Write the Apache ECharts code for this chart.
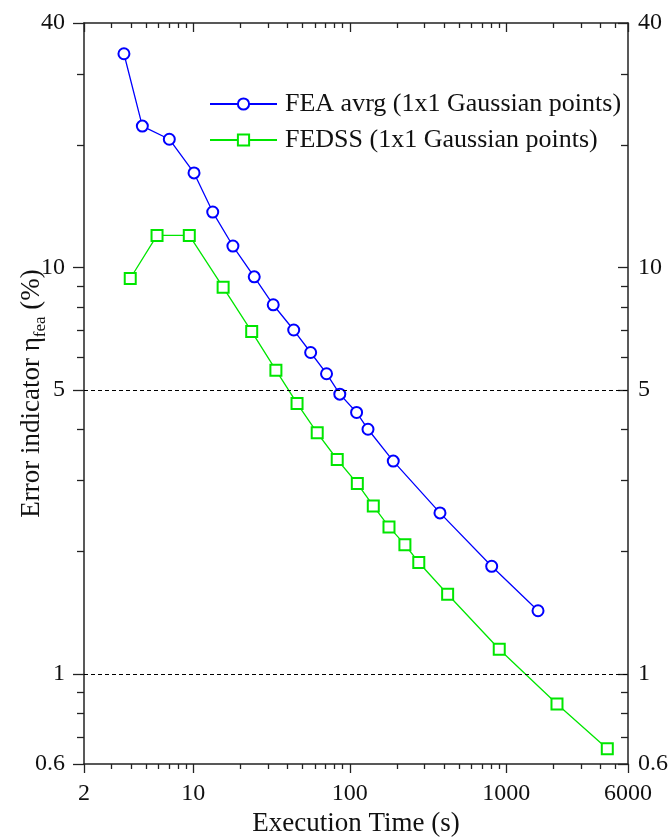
<!DOCTYPE html>
<html>
<head>
<meta charset="utf-8">
<script src="https://cdn.jsdelivr.net/npm/echarts@6/dist/echarts.min.js"></script>
<style>
  html, body { margin: 0; padding: 0; background: #fff; }
  #chart { width: 671px; height: 837px; }
</style>
</head>
<body>
<div id="chart"></div>
<script>
// execution time (s) vs error indicator (%)
const feaTime = [3.60, 4.72, 7.02, 10.1, 13.3, 17.9, 24.5, 32.4, 43.8, 56.2, 71.0, 86.3, 110.5, 130.7, 189.6, 377, 807, 1596];
const feaError = [33.6, 22.3, 20.7, 17.1, 13.7, 11.3, 9.49, 8.10, 7.02, 6.18, 5.48, 4.88, 4.40, 4.00, 3.34, 2.49, 1.84, 1.43];

const fedssTime = [3.95, 5.86, 9.42, 15.5, 23.6, 33.7, 46.0, 61.9, 83.1, 111.7, 141.3, 178, 225, 276, 422, 902, 2110, 4424];
const fedssError = [9.40, 12.0, 12.0, 8.94, 6.96, 5.59, 4.63, 3.92, 3.37, 2.94, 2.59, 2.30, 2.08, 1.88, 1.57, 1.15, 0.843, 0.654];

const xMajorTicks = [2, 10, 100, 1000, 6000];
const xMinorTicks = [3, 4, 5, 6, 7, 8, 9, 20, 30, 40, 50, 60, 70, 80, 90,
  200, 300, 400, 500, 600, 700, 800, 900, 2000, 3000, 4000, 5000];
const yMajorTicks = [0.6, 1, 5, 10, 40];
const yMinorTicks = [0.7, 0.8, 0.9, 2, 3, 4, 6, 7, 8, 9, 20, 30];
const refLines = [1, 5];

const FONT = "'Liberation Serif', 'Times New Roman', serif";
const AXIS_COLOR = '#222';

function logAxis(min, max, extra) {
  const base = {
    type: 'log',
    logBase: 10,
    min: min,
    max: max,
    axisLine: { show: false, lineStyle: { color: AXIS_COLOR, width: 1.5 } },
    axisTick: { show: true, lineStyle: { color: AXIS_COLOR, width: 1.3 } },
    axisLabel: { show: false },
    splitLine: { show: false },
    minorTick: { show: false },
  };
  return Object.assign(base, extra);
}

const tickLabel = {
  show: true,
  interval: 0,
  hideOverlap: false,
  showMinLabel: true,
  showMaxLabel: true,
  fontFamily: FONT,
  fontSize: 24,
  color: '#111',
  formatter: (v) => String(+(+v).toPrecision(6)),
};

const xAxes = [
  logAxis(2, 6000, {
    position: 'bottom',
    axisLine: { show: true, lineStyle: { color: AXIS_COLOR, width: 1.5 } },
    axisTick: { customValues: xMajorTicks, length: 9, lineStyle: { color: AXIS_COLOR, width: 1.3 } },
    axisLabel: Object.assign({ customValues: xMajorTicks, margin: 18 }, tickLabel),
    name: 'Execution Time (s)',
    nameLocation: 'middle',
    nameGap: 46,
    nameTextStyle: { fontFamily: FONT, fontSize: 27, color: '#111' },
  }),
  logAxis(2, 6000, {
    position: 'bottom',
    axisTick: { customValues: xMinorTicks, length: 5, lineStyle: { color: AXIS_COLOR, width: 1.3 } },
  }),
  logAxis(2, 6000, {
    position: 'top',
    axisLine: { show: true, lineStyle: { color: AXIS_COLOR, width: 1.5 } },
    axisTick: { customValues: xMajorTicks, length: 9, inside: true, lineStyle: { color: AXIS_COLOR, width: 1.3 } },
  }),
  logAxis(2, 6000, {
    position: 'top',
    axisTick: { customValues: xMinorTicks, length: 5, inside: true, lineStyle: { color: AXIS_COLOR, width: 1.3 } },
  }),
];

const yAxes = [
  logAxis(0.6, 40, {
    position: 'left',
    axisLine: { show: true, lineStyle: { color: AXIS_COLOR, width: 1.5 } },
    axisTick: { customValues: yMajorTicks, length: 11, lineStyle: { color: AXIS_COLOR, width: 1.3 } },
    axisLabel: Object.assign({ customValues: yMajorTicks, margin: 19 }, tickLabel),
    name: '{a|Error indicator η}{sub|fea}{a| (%)}',
    nameLocation: 'middle',
    nameGap: 35,
    nameMoveOverlap: false,
    nameTextStyle: {
      fontFamily: FONT,
      color: '#111',
      rich: {
        a: { fontFamily: FONT, fontSize: 27, color: '#111', lineHeight: 34, verticalAlign: 'middle' },
        sub: { fontFamily: FONT, fontSize: 17, color: '#111', lineHeight: 34, verticalAlign: 'bottom' },
      },
    },
  }),
  logAxis(0.6, 40, {
    position: 'left',
    axisTick: { customValues: yMinorTicks, length: 7, lineStyle: { color: AXIS_COLOR, width: 1.3 } },
  }),
  logAxis(0.6, 40, {
    position: 'right',
    axisLine: { show: true, lineStyle: { color: AXIS_COLOR, width: 1.5 } },
    axisTick: { customValues: yMajorTicks, length: 10, inside: true, lineStyle: { color: AXIS_COLOR, width: 1.3 } },
    axisLabel: Object.assign({ customValues: yMajorTicks, margin: 10 }, tickLabel),
  }),
  logAxis(0.6, 40, {
    position: 'right',
    axisTick: { customValues: yMinorTicks, length: 7, inside: true, lineStyle: { color: AXIS_COLOR, width: 1.3 } },
  }),
];

const chart = echarts.init(document.getElementById('chart'), null, { renderer: 'canvas' });

chart.setOption({
  animation: false,
  backgroundColor: '#fff',
  grid: { left: 84, right: 43, top: 23, bottom: 73, containLabel: false, outerBoundsMode: 'none' },
  legend: {
    orient: 'vertical',
    left: 204,
    top: 86,
    itemWidth: 67,
    itemHeight: 14,
    itemGap: 10,
    textStyle: { fontFamily: FONT, fontSize: 26, color: '#111', padding: [0, 0, 0, 3] },
    data: ['FEA avrg (1x1 Gaussian points)', 'FEDSS (1x1 Gaussian points)'],
  },
  xAxis: xAxes,
  yAxis: yAxes,
  series: [
    {
      name: 'FEA avrg (1x1 Gaussian points)',
      type: 'line',
      xAxisIndex: 0,
      yAxisIndex: 0,
      data: feaTime.map((t, i) => [t, feaError[i]]),
      symbol: 'emptyCircle',
      symbolSize: 11,
      color: '#0000ff',
      lineStyle: { color: '#0000ff', width: 1.3 },
      itemStyle: { color: '#0000ff', borderWidth: 1.4 },
      markLine: {
        silent: true,
        symbol: ['none', 'none'],
        label: { show: false },
        lineStyle: { color: '#000', width: 1.2, type: [4, 3] },
        data: refLines.map((v) => ({ yAxis: v })),
      },
      z: 3,
    },
    {
      name: 'FEDSS (1x1 Gaussian points)',
      type: 'line',
      xAxisIndex: 0,
      yAxisIndex: 0,
      data: fedssTime.map((t, i) => [t, fedssError[i]]),
      symbol: 'emptyRect',
      symbolSize: 11,
      color: '#00e600',
      lineStyle: { color: '#00e600', width: 1.3 },
      itemStyle: { color: '#00e600', borderWidth: 1.4 },
      z: 3,
    },
  ],
});
</script>
</body>
</html>
